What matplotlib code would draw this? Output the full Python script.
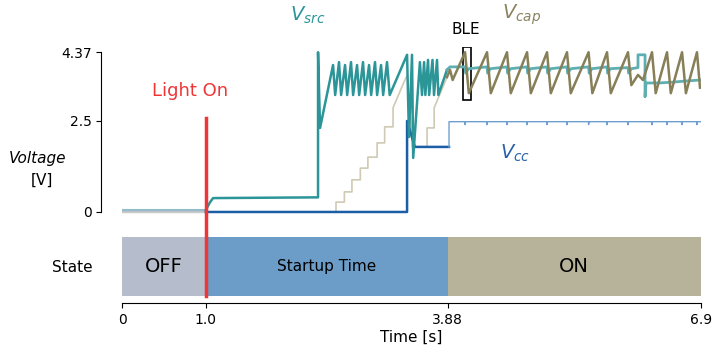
import matplotlib.pyplot as plt
from matplotlib.patches import Rectangle

# colours
teal = '#2b9598'
teal_light = '#5fafb2'
blue = '#1c5ea6'
blue_light = '#6f9fd2'
olive = '#877f58'
beige = '#cfcab3'
red = '#ee3636'

# before light on
pre_t = [0.0, 1.0]
pre_vsrc = [0.06, 0.06]
pre_vcap = [0.01, 0.01]
pre_vcc = [0.0, 0.0]

# V_src during startup
src_t = [1.0, 1.05, 1.085, 2.336, 2.336, 2.36, 2.515,
         2.54, 2.586, 2.611, 2.658, 2.683, 2.729, 2.754, 2.801, 2.826, 2.872,
         2.897, 2.944, 2.969, 3.015, 3.04, 3.087, 3.112, 3.158, 3.19, 3.397,
         3.42, 3.456, 3.47, 3.55, 3.575, 3.60, 3.615, 3.647, 3.66, 3.70,
         3.718, 3.754, 3.77, 3.873]
src_v = [0.06, 0.27, 0.38, 0.40, 4.37, 2.30, 4.02,
         3.20, 4.10, 3.20, 4.02, 3.20, 4.10, 3.20, 4.02, 3.20, 4.10,
         3.20, 4.02, 3.20, 4.10, 3.20, 4.02, 3.20, 4.10, 3.20, 4.30,
         2.05, 4.30, 1.48, 4.10, 3.20, 4.10, 3.20, 4.16, 3.20, 4.16,
         3.20, 4.16, 3.20, 3.89]

# V_src once the node is on
src_on_t = [3.873, 3.909, 4.088, 4.095, 4.13, 4.350, 4.357, 4.39, 4.588, 4.595,
            4.63, 4.827, 4.834, 4.87, 5.065, 5.072, 5.11, 5.303, 5.31, 5.35,
            5.560, 5.567, 5.60, 5.780, 5.787, 5.82, 6.030, 6.037, 6.07, 6.149,
            6.149, 6.233, 6.233, 6.245, 6.40, 6.55, 6.70, 6.888]
src_on_v = [3.89, 3.97, 3.97, 3.80, 3.92, 3.97, 3.80, 3.92, 3.97, 3.80,
            3.92, 3.97, 3.80, 3.92, 3.97, 3.80, 3.92, 3.97, 3.80, 3.92,
            3.97, 3.80, 3.92, 3.97, 3.80, 3.92, 3.95, 3.80, 3.92, 3.95,
            4.30, 4.30, 3.15, 3.53, 3.53, 3.55, 3.58, 3.61]

# V_cap charging staircase
cap_start_t = [1.0, 2.55, 2.55, 2.65, 2.65, 2.74, 2.74, 2.84, 2.84, 2.93, 2.93,
               3.04, 3.04, 3.13, 3.13, 3.23, 3.23, 3.35, 3.40, 3.46, 3.635,
               3.635, 3.72, 3.72, 3.873]
cap_start_v = [0.0, 0.0, 0.27, 0.27, 0.55, 0.55, 0.88, 0.88, 1.20, 1.20, 1.50,
               1.50, 1.89, 1.89, 2.33, 2.33, 2.85, 3.50, 3.75, 1.78, 1.78,
               2.30, 2.30, 2.85, 3.69]

# V_cap sawtooth while on
cap_t = [3.873, 3.909, 3.94, 4.088, 4.133, 4.350, 4.395, 4.588, 4.633, 4.827,
         4.872, 5.065, 5.11, 5.303, 5.348, 5.560, 5.605, 5.780, 5.825, 6.030,
         6.07, 6.149, 6.209, 6.316, 6.36, 6.495, 6.54, 6.674, 6.72, 6.852, 6.888]
cap_v = [3.69, 3.89, 3.61, 4.37, 3.25, 4.37, 3.25, 4.37, 3.25, 4.37,
         3.25, 4.37, 3.25, 4.37, 3.25, 4.37, 3.25, 4.37, 3.25, 4.37,
         3.47, 3.75, 3.61, 4.37, 3.25, 4.37, 3.25, 4.37, 3.25, 4.37, 3.40]

# V_cc
cc_t = [1.0, 3.397, 3.397, 3.49, 3.897]
cc_v = [0.0, 0.0, 2.49, 1.78, 1.78]
cc_on_t = [3.897, 3.897, 4.088, 4.088, 4.093, 4.350, 4.350, 4.355, 4.588, 4.588,
           4.593, 4.827, 4.827, 4.832, 5.065, 5.065, 5.07, 5.303, 5.303, 5.308,
           5.560, 5.560, 5.565, 5.780, 5.780, 5.785, 6.030, 6.030, 6.035, 6.316,
           6.316, 6.321, 6.495, 6.495, 6.50, 6.674, 6.674, 6.679, 6.852, 6.852,
           6.857, 6.9]
cc_on_v = [1.78, 2.47, 2.47, 2.39, 2.47, 2.47, 2.39, 2.47, 2.47, 2.39,
           2.47, 2.47, 2.39, 2.47, 2.47, 2.39, 2.47, 2.47, 2.39, 2.47,
           2.47, 2.39, 2.47, 2.47, 2.39, 2.47, 2.47, 2.39, 2.47, 2.47,
           2.39, 2.47, 2.47, 2.39, 2.47, 2.47, 2.39, 2.47, 2.47, 2.39,
           2.47, 2.47]

# state bar
states = ['OFF', 'Startup Time', 'ON']
state_start = [0.0, 1.0, 3.88]
state_end = [1.0, 3.88, 6.9]
state_colors = ['#b5bccb', '#6b9dc8', '#b7b39a']
state_sizes = [14, 11, 14]

x_ticks = [0, 1.0, 3.88, 6.9]
x_labels = ['0', '1.0', '3.88', '6.9']
y_ticks = [0, 2.5, 4.37]
y_labels = ['0', '2.5', '4.37']
light_on = 1.0

fig = plt.figure(figsize=(7.14, 3.55), dpi=100)
ax = fig.add_axes([0.1709, 0.3823, 0.8109, 0.4839])
ax2 = fig.add_axes([0.1709, 0.1662, 0.8109, 0.1662])

# voltages
ax.plot(pre_t, pre_vsrc, color='#93bccb', lw=1.5)
ax.plot(pre_t, pre_vcap, color='#bcbfc2', lw=1.5)
ax.plot(pre_t, pre_vcc, color='#c9cbcd', lw=1.0)
ax.plot(cap_start_t, cap_start_v, color=beige, lw=1.2)
ax.plot(cc_t, cc_v, color=blue, lw=1.8)
ax.plot(cc_on_t, cc_on_v, color=blue_light, lw=1.0)
ax.plot(src_t, src_v, color=teal, lw=1.8)
ax.plot(src_on_t, src_on_v, color=teal_light, lw=2.0)
ax.plot(cap_t, cap_v, color=olive, lw=1.8)

ax.add_patch(Rectangle((4.064, 3.06), 0.095, 1.45, fill=False, ec='black', lw=1.2))
ax.text(4.10, 4.98, 'BLE', fontsize=11, ha='center', va='center')
ax.text(0.81, 3.31, 'Light On', color=red, fontsize=13, ha='center', va='center')
ax.text(2.217, 5.39, r'$V_{src}$', color=teal, fontsize=14, ha='center', va='center')
ax.text(4.767, 5.39, r'$V_{cap}$', color='#8a8360', fontsize=14, ha='center', va='center')
ax.text(4.684, 1.61, r'$V_{cc}$', color='#2a62a8', fontsize=14, ha='center', va='center')

ax.set_xlim(0, 6.9)
ax.set_ylim(-0.2, 4.5)
ax.set_xticks([])
ax.set_yticks(y_ticks)
ax.set_yticklabels(y_labels, fontsize=11)
for s in ['top', 'right', 'bottom']:
    ax.spines[s].set_visible(False)
ax.spines['left'].set_position(('outward', 15))
ax.spines['left'].set_bounds(0, 4.37)

fig.text(0.052, 0.553, 'Voltage', fontsize=11, style='italic', ha='center', va='center')
fig.text(0.059, 0.493, '[V]', fontsize=11, ha='center', va='center')

# states
for name, a, b, c, fs in zip(states, state_start, state_end, state_colors, state_sizes):
    ax2.barh(0.5, b - a, left=a, height=1.0, color=c)
    ax2.text((a + b) / 2, 0.5, name, fontsize=fs, ha='center', va='center')

ax2.plot([light_on, light_on], [0, 3.02], color=red, lw=2.5, clip_on=False, zorder=5)

ax2.set_xlim(0, 6.9)
ax2.set_ylim(0, 1)
ax2.set_yticks([0.5])
ax2.set_yticklabels(['State'], fontsize=11)
ax2.tick_params(axis='y', length=0, pad=21)
ax2.set_xticks(x_ticks)
ax2.set_xticklabels(x_labels, fontsize=11)
ax2.set_xlabel('Time [s]', fontsize=11, labelpad=2)
for s in ['top', 'right', 'left']:
    ax2.spines[s].set_visible(False)
ax2.spines['bottom'].set_position(('outward', 5))

fig.savefig('out.png', dpi=100)
